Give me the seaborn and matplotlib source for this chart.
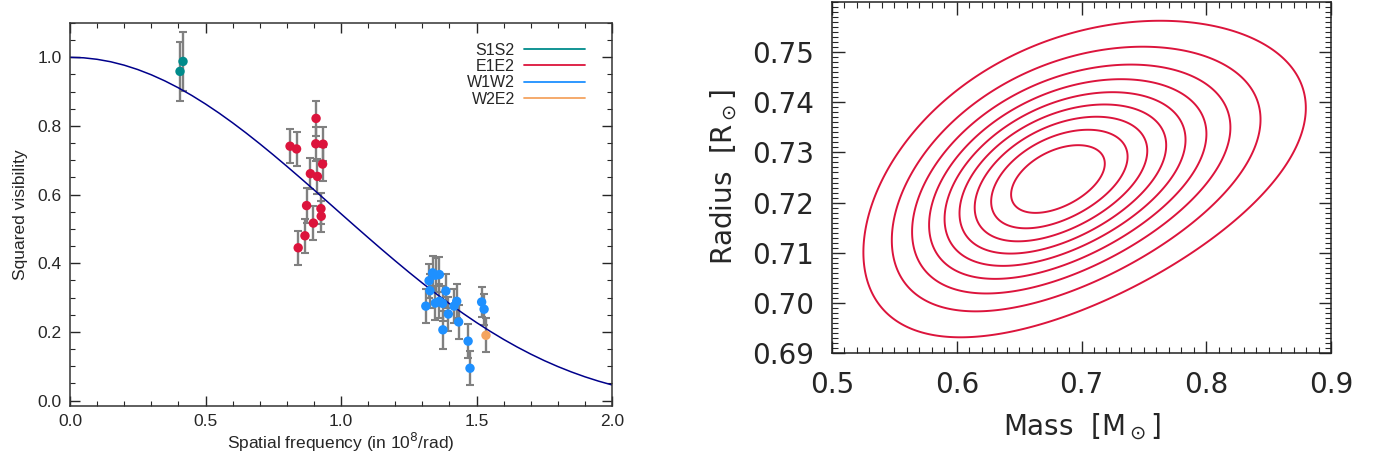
import numpy as np
import pandas as pd
import matplotlib
matplotlib.use("Agg")
import matplotlib.pyplot as plt
import seaborn as sns
from matplotlib.lines import Line2D
from matplotlib.ticker import MultipleLocator, FormatStrFormatter

# Left panel: squared visibilities per baseline
s1s2_freq = [0.406, 0.417]
s1s2_v2 = [0.959, 0.988]
s1s2_err = [0.085, 0.085]

e1e2_freq = [0.908, 0.812, 0.836, 0.907, 0.934, 0.932, 0.887, 0.913, 0.873, 0.926, 0.927, 0.898, 0.867, 0.842]
e1e2_v2 = [0.822, 0.741, 0.733, 0.748, 0.747, 0.689, 0.661, 0.653, 0.568, 0.559, 0.537, 0.517, 0.480, 0.445]
e1e2_err = [0.05, 0.05, 0.05, 0.05, 0.05, 0.05, 0.045, 0.05, 0.05, 0.045, 0.045, 0.05, 0.05, 0.05]

w1w2_freq = [1.338, 1.349, 1.363, 1.325, 1.328, 1.387, 1.313, 1.348, 1.363, 1.375,
             1.396, 1.427, 1.417, 1.376, 1.434, 1.469, 1.476, 1.519, 1.528]
w1w2_v2 = [0.372, 0.365, 0.367, 0.349, 0.320, 0.319, 0.275, 0.284, 0.289, 0.283,
           0.252, 0.289, 0.275, 0.206, 0.229, 0.173, 0.094, 0.287, 0.266]
w1w2_err = [0.05, 0.05, 0.05, 0.05, 0.05, 0.05, 0.05, 0.05, 0.05, 0.05,
            0.05, 0.05, 0.05, 0.055, 0.05, 0.05, 0.05, 0.045, 0.045]

w2e2_freq = [1.535]
w2e2_v2 = [0.190]
w2e2_err = [0.05]

# uniform disk model curve, read at 0.05 steps
model_freq = [0.0, 0.05, 0.1, 0.15, 0.2, 0.25, 0.3, 0.35, 0.4, 0.45, 0.5, 0.55, 0.6, 0.65, 0.7,
              0.75, 0.8, 0.85, 0.9, 0.95, 1.0, 1.05, 1.1, 1.15, 1.2, 1.25, 1.3, 1.35, 1.4,
              1.45, 1.5, 1.55, 1.6, 1.65, 1.7, 1.75, 1.8, 1.85, 1.9, 1.95, 2.0]
model_v2 = [1.0, 0.9986, 0.9942, 0.9871, 0.9771, 0.9644, 0.9491, 0.9313, 0.9111, 0.8886, 0.8640,
            0.8375, 0.8092, 0.7794, 0.7482, 0.7159, 0.6826, 0.6486, 0.6141, 0.5792, 0.5442,
            0.5093, 0.4747, 0.4405, 0.4070, 0.3742, 0.3424, 0.3117, 0.2822, 0.2540, 0.2272,
            0.2019, 0.1781, 0.1559, 0.1353, 0.1163, 0.0990, 0.0833, 0.0691, 0.0565, 0.0454]

baselines = ["S1S2", "E1E2", "W1W2", "W2E2"]
colors = {"S1S2": "#008b8b", "E1E2": "#dc143c", "W1W2": "#1e90ff", "W2E2": "#f4a460"}

# Right panel: mass-radius probability (lognormal in M/R^k, gaussian in R)
radius_mean = 0.7255
radius_sigma = 0.0147
radius_exponent = 2.7
mass_median = 0.690
density_sigma = 0.107
contour_levels = [0.1, 0.2, 0.3, 0.4, 0.5, 0.6, 0.7, 0.8, 0.9]

frames = []
for name, f, v, e in [("S1S2", s1s2_freq, s1s2_v2, s1s2_err),
                      ("E1E2", e1e2_freq, e1e2_v2, e1e2_err),
                      ("W1W2", w1w2_freq, w1w2_v2, w1w2_err),
                      ("W2E2", w2e2_freq, w2e2_v2, w2e2_err)]:
    frames.append(pd.DataFrame({"freq": f, "v2": v, "err": e, "baseline": name}))
df = pd.concat(frames, ignore_index=True)
model_df = pd.DataFrame({"freq": model_freq, "v2": model_v2})

sns.set_style("ticks")
plt.rcParams["font.family"] = ["Liberation Sans", "DejaVu Sans"]
plt.rcParams["xtick.direction"] = "in"
plt.rcParams["ytick.direction"] = "in"
plt.rcParams["xtick.top"] = True
plt.rcParams["ytick.right"] = True

fig = plt.figure(figsize=(13.81, 4.62), dpi=100)
ax1 = fig.add_axes([70 / 1381, 1 - 406 / 462, 542 / 1381, 383 / 462])
ax2 = fig.add_axes([832 / 1381, 1 - 353 / 462, 499 / 1381, 351 / 462])

# error bars first, then the dots
ax1.errorbar(df["freq"], df["v2"], yerr=df["err"], fmt="none", ecolor="#808080",
             elinewidth=1.7, capsize=2.8, capthick=1.5, zorder=1)
sns.lineplot(data=model_df, x="freq", y="v2", color="#00008b", linewidth=1.1, ax=ax1, zorder=2)
sns.scatterplot(data=df, x="freq", y="v2", hue="baseline", palette=colors, hue_order=baselines,
                s=46, edgecolor="none", legend=False, ax=ax1, zorder=3)

ax1.set_xlim(0, 2.0)
ax1.set_ylim(-0.016, 1.10)
ax1.xaxis.set_major_locator(MultipleLocator(0.5))
ax1.xaxis.set_minor_locator(MultipleLocator(0.1))
ax1.yaxis.set_major_locator(MultipleLocator(0.2))
ax1.yaxis.set_minor_locator(MultipleLocator(0.05))
ax1.yaxis.set_major_formatter(FormatStrFormatter("%.1f"))
ax1.xaxis.set_major_formatter(FormatStrFormatter("%.1f"))
ax1.tick_params(which="major", length=7, width=1, labelsize=12.5, pad=6)
ax1.tick_params(which="minor", length=3.5, width=0.8)
ax1.set_xlabel("Spatial frequency (in 10$^8$/rad)", fontsize=12.5, labelpad=1)
ax1.set_ylabel("Squared visibility", fontsize=12.5, labelpad=7)
for sp in ax1.spines.values():
    sp.set_linewidth(1.1)
    sp.set_color("#333333")

handles = [Line2D([], [], color=colors[b], lw=1.3) for b in baselines]
ax1.legend(handles, baselines, loc="upper right", bbox_to_anchor=(0.962, 0.965), frameon=False,
           markerfirst=False, handlelength=3.8, handletextpad=0.6, labelspacing=0.08,
           fontsize=11.5, borderaxespad=0)

# right panel contours
mass_grid = np.linspace(0.5, 0.9, 400)
radius_grid = np.linspace(0.69, 0.76, 400)
M, R = np.meshgrid(mass_grid, radius_grid)
u0 = np.log(mass_median) - radius_exponent * np.log(radius_mean)
u = np.log(M) - radius_exponent * np.log(R)
dens = (np.exp(-0.5 * ((R - radius_mean) / radius_sigma) ** 2)
        * np.exp(-0.5 * ((u - u0) / density_sigma) ** 2) / M)
dens = dens / dens.max()
ax2.contour(M, R, dens, levels=contour_levels, colors="#dc143c", linewidths=1.4)

ax2.set_xlim(0.5, 0.9)
ax2.set_ylim(0.69, 0.76)
ax2.set_xticks([0.5, 0.6, 0.7, 0.8, 0.9])
ax2.set_yticks([0.69, 0.70, 0.71, 0.72, 0.73, 0.74, 0.75])
ax2.xaxis.set_minor_locator(MultipleLocator(0.01))
ax2.yaxis.set_minor_locator(MultipleLocator(0.001))
ax2.yaxis.set_major_formatter(FormatStrFormatter("%.2f"))
ax2.xaxis.set_major_formatter(FormatStrFormatter("%.1f"))
for lab in ax2.get_xticklabels() + ax2.get_yticklabels():
    lab.set_family(["DejaVu Sans"])
ax2.tick_params(which="major", length=9, width=1, labelsize=20, pad=13)
ax2.tick_params(which="minor", length=4, width=0.8)
ax2.set_xlabel(r"Mass  [M$_\odot$]", fontsize=20, family=["DejaVu Sans"], labelpad=9)
ax2.set_ylabel(r"Radius  [R$_\odot$]", fontsize=20, family=["DejaVu Sans"], labelpad=9)
for sp in ax2.spines.values():
    sp.set_linewidth(1.1)
    sp.set_color("#222222")

fig.savefig("out.png", dpi=100)
